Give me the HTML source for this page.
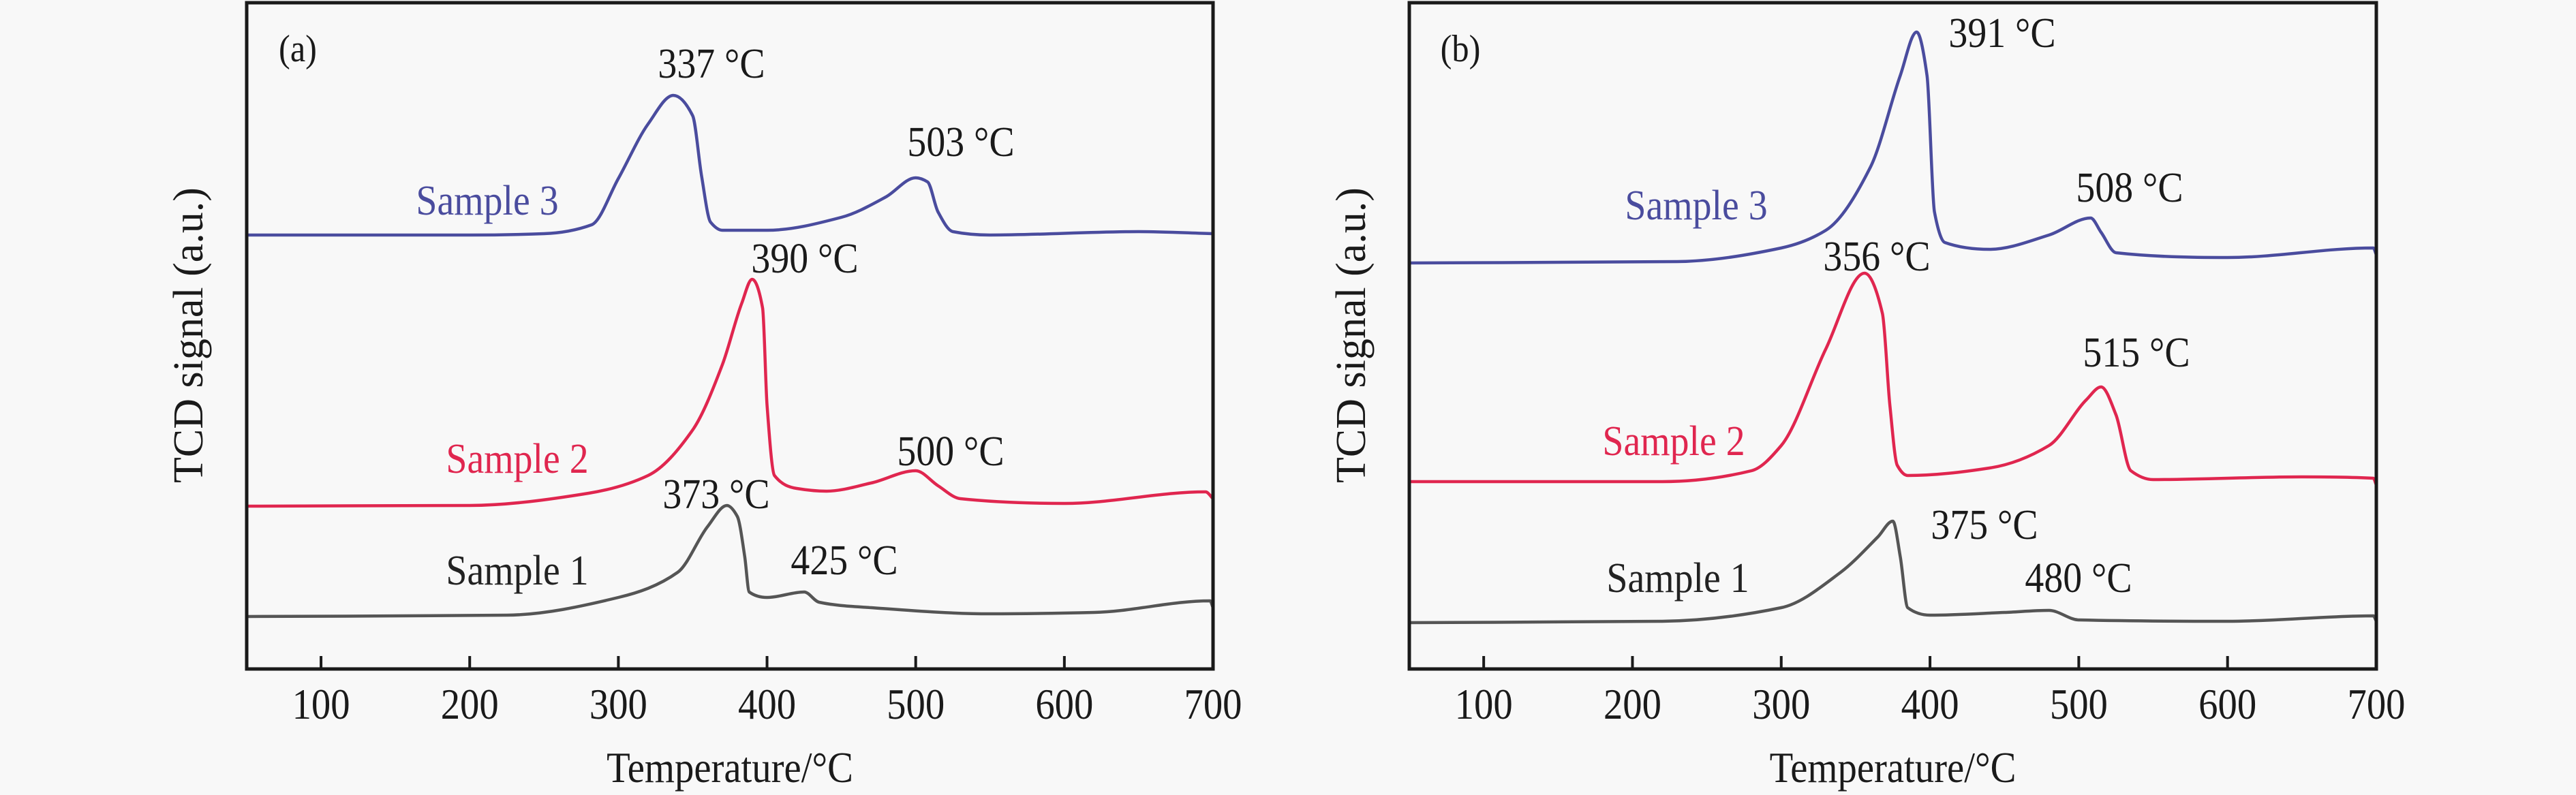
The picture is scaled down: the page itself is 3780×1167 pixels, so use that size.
<!DOCTYPE html>
<html><head><meta charset="utf-8">
<style>
html,body{margin:0;padding:0;background:#f8f8f8;}
svg{display:block;}
text{font-family:"Liberation Serif","DejaVu Serif",serif;fill:#1a1a1a;}
</style></head>
<body>
<svg id="fig" width="3780" height="1167" viewBox="0 0 3780 1167" xmlns="http://www.w3.org/2000/svg">
<rect width="3780" height="1167" fill="#f8f8f8"/>
</svg>
<script>
// ---- data (temperature in °C, TCD signal in a.u.) ----
const tickValues = [100,200,300,400,500,600,700];
const tickLabels = ["100","200","300","400","500","600","700"];

const aS3T = [50,200,250,282,300,320,337,350,356,362,370,400,450,480,500,508,515,525,550,650,700];
const aS3V = [637,637,639,652,720,800,842,812,723,656,644,644,663,693,721,715,671,642,637,642,639];
const aS2T = [50,200,280,320,350,370,383,390,397,400,405,420,440,470,500,515,530,600,695,700];
const aS2V = [239,240,258,284,351,447,537,572,530,388,284,265,261,273,291,269,250,243,260,250];
const aS1T = [50,225,300,340,360,373,380,385,388,400,425,435,470,550,620,698,700];
const aS1V = [77,79,105,142,209,240,224,165,113,105,113,98,90,81,83,100,90];

const bS3T = [50,230,300,330,360,380,391,398,403,410,440,480,508,515,525,600,698,700];
const bS3V = [596,598,618,644,737,871,935,871,671,626,616,637,662,641,611,604,618,608];
const bS2T = [50,220,280,300,330,356,368,373,378,385,440,480,505,515,525,535,550,650,698,700];
const bS2V = [275,275,291,328,470,581,522,388,299,284,295,328,395,414,373,291,278,282,280,270];
const bS1T = [50,220,300,340,365,375,380,385,400,450,480,500,600,698,700];
const bS1V = [68,70,90,142,194,217,165,90,79,83,86,72,70,78,70];

const NS = "http://www.w3.org/2000/svg";
const svg = document.getElementById('fig');
const PT = 4, PB = 982, YMAX = 978;
function mk(tag, attrs, parent){
  const e = document.createElementNS(NS, tag);
  for (const k in attrs) e.setAttribute(k, attrs[k]);
  (parent||svg).appendChild(e);
  return e;
}
function txt(str, x, y, size, color, anchor, parent){
  const t = mk('text', {x:0, y:0, 'font-size':size, 'text-anchor':anchor||'middle',
    transform:'translate(' + x + ',' + y + ') scale(0.9,1)'}, parent);
  if (color) t.style.fill = color;
  t.textContent = str;
  return t;
}
// monotone cubic (Fritsch–Carlson) path
function pathFrom(xs, ys){
  const n = xs.length, d = [], m = new Array(n);
  for (let i=0;i<n-1;i++) d.push((ys[i+1]-ys[i])/(xs[i+1]-xs[i]));
  m[0] = d[0]; m[n-1] = d[n-2];
  for (let i=1;i<n-1;i++){
    if (d[i-1]*d[i] <= 0) m[i] = 0;
    else { const h0 = xs[i]-xs[i-1], h1 = xs[i+1]-xs[i];
      const w1 = 2*h1+h0, w2 = h1+2*h0;
      m[i] = (w1+w2)/(w1/d[i-1]+w2/d[i]); }
  }
  let p = 'M' + xs[0].toFixed(1) + ',' + ys[0].toFixed(1);
  for (let i=0;i<n-1;i++){
    const h = xs[i+1]-xs[i];
    p += ' C' + (xs[i]+h/3).toFixed(1) + ',' + (ys[i]+m[i]*h/3).toFixed(1) + ' ' +
         (xs[i+1]-h/3).toFixed(1) + ',' + (ys[i+1]-m[i+1]*h/3).toFixed(1) + ' ' +
         xs[i+1].toFixed(1) + ',' + ys[i+1].toFixed(1);
  }
  return p;
}

function panel(key, L, R, series, labels, tag){
  const g = mk('g', {});
  
  
  const xs = t => L + (t - 50) * (R - L) / 650;
  const ys = v => PB - v * (PB - PT) / YMAX;
  series.forEach(s => {
    const p = mk('path', {d: pathFrom(s.t.map(xs), s.v.map(ys)), fill:'none', stroke:s.color, 'stroke-width':4.5, 'stroke-linejoin':'round'}, g);
    
    
  });
  const fr = mk('rect', {x:L, y:PT, width:R-L, height:PB-PT, fill:'none', stroke:'#1a1a1a', 'stroke-width':5}, g);
  
  
  tickValues.forEach((v,i) => {
    const x = xs(v);
    const tk = mk('line', {x1:x, x2:x, y1:PB, y2:PB-19, stroke:'#1a1a1a', 'stroke-width':4}, g);
    
    
    const tl = txt(tickLabels[i], x, 1055, 63, null, 'middle', g);
    
    
  });
  const xt = txt('Temperature/°C', (L+R)/2, 1148, 63, null, 'middle', g);
  
  
  const yt = mk('text', {x:0, y:0, 'font-size':62, 'text-anchor':'middle',
    transform:'translate(' + (L-65) + ',492) rotate(-90)'}, g);
  yt.textContent = 'TCD signal (a.u.)';
  
  
  const pt = txt(tag, L+75, 90, 56, null, 'middle', g);
  
  
  labels.forEach(l => {
    const t = txt(l.s, l.x, l.y, 62, l.c, 'middle', g);
    
    
  });
}

const C3 = '#4a4c9e', C2 = '#e0264f', C1 = '#555555';
panel('a', 362, 1780,
  [{name:'sample-3', t:aS3T, v:aS3V, color:C3},
   {name:'sample-2', t:aS2T, v:aS2V, color:C2},
   {name:'sample-1', t:aS1T, v:aS1V, color:C1}],
  [{s:'337 °C', x:1044, y:114, n:'peak-label'},
   {s:'503 °C', x:1410, y:229, n:'peak-label'},
   {s:'Sample 3', x:715, y:315, c:C3, n:'series-label-sample-3'},
   {s:'390 °C', x:1181, y:400, n:'peak-label'},
   {s:'Sample 2', x:759, y:694, c:C2, n:'series-label-sample-2'},
   {s:'500 °C', x:1395, y:683, n:'peak-label'},
   {s:'373 °C', x:1051, y:746, n:'peak-label'},
   {s:'Sample 1', x:759, y:858, c:'#222', n:'series-label-sample-1'},
   {s:'425 °C', x:1239, y:843, n:'peak-label'}], '(a)');
panel('b', 2068, 3487,
  [{name:'sample-3', t:bS3T, v:bS3V, color:C3},
   {name:'sample-2', t:bS2T, v:bS2V, color:C2},
   {name:'sample-1', t:bS1T, v:bS1V, color:C1}],
  [{s:'391 °C', x:2938, y:69, n:'peak-label'},
   {s:'508 °C', x:3125, y:296, n:'peak-label'},
   {s:'Sample 3', x:2489, y:322, c:C3, n:'series-label-sample-3'},
   {s:'356 °C', x:2754, y:397, n:'peak-label'},
   {s:'515 °C', x:3135, y:538, n:'peak-label'},
   {s:'Sample 2', x:2456, y:668, c:C2, n:'series-label-sample-2'},
   {s:'375 °C', x:2912, y:791, n:'peak-label'},
   {s:'Sample 1', x:2462, y:869, c:'#222', n:'series-label-sample-1'},
   {s:'480 °C', x:3050, y:869, n:'peak-label'}], '(b)');
</script>
</body></html>
